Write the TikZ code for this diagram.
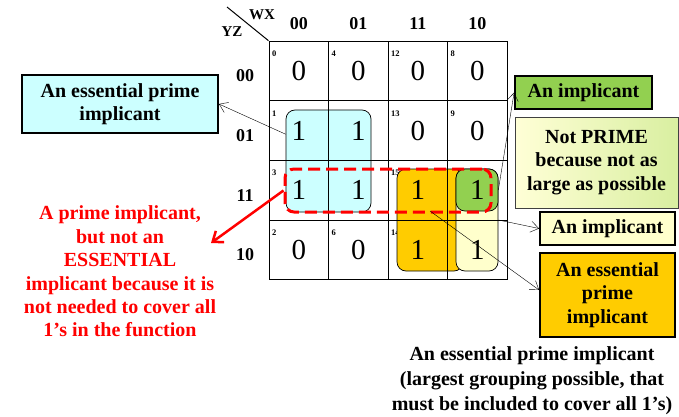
\documentclass[tikz,border=0pt]{standalone}
\usepackage{fontspec}
\setmainfont{Liberation Serif}
\usetikzlibrary{arrows.meta}
\definecolor{cyanfill}{HTML}{CCFFFF}
\definecolor{greenfill}{HTML}{92D050}
\definecolor{yellowfill}{HTML}{FFFFCC}
\definecolor{orangefill}{HTML}{FFCC00}
\definecolor{redline}{HTML}{FF0000}
\begin{document}
\begin{tikzpicture}[x=1pt,y=-1pt,
      kcell/.style={draw,line width=1pt,inner sep=0pt,minimum width=59.5pt,
        minimum height=59.6pt,font=\fontsize{29}{29}\selectfont},
      grp/.style={draw,line width=.7pt,rounded corners=9pt,inner sep=0pt},
      lbl/.style={draw,line width=1.8pt,align=center,inner sep=0pt,
        font=\fontsize{20}{23.5}\selectfont\bfseries},
      hdr/.style={font=\fontsize{18}{18}\selectfont\bfseries},
      idx/.style={anchor=west,inner sep=0pt,font=\fontsize{8.5}{8.5}\selectfont\bfseries},
      note/.style={->,>={Straight Barb[length=8pt,width=11pt]}}]
      \useasboundingbox (0,0) rectangle (679,417);

      \node[font=\fontsize{15}{15}\selectfont\bfseries] (wx) at (262,15) {WX};
      \node[font=\fontsize{15}{15}\selectfont\bfseries] (yz) at (232,32) {YZ};
      \coordinate (diag) at (227,7);

      \foreach \c/\cl/\base in {0/00/0,1/01/4,2/11/12,3/10/8}
      {\node[hdr] (col\c) at (298.75+59.5*\c,24) {\cl};
       \foreach \r/\add in {0/0,1/1,2/3,3/2}
       {\pgfmathtruncatemacro\n{\base+\add}
        \node[idx] (i\n) at (272+59.5*\c,54+59.6*\r) {\n};
       }
      }
      \foreach \r/\rl in {0/00,1/01,2/11,3/10}
      {\node[hdr] (row\r) at (245,76+59.6*\r) {\rl};}

      \node[grp,fill=cyanfill,minimum width=85pt,minimum height=102pt] (cyangrp) at (328.5,161) {};
      \node[grp,fill=orangefill,minimum width=66pt,minimum height=102pt] (orangegrp) at (430,220) {};
      \node[grp,fill=yellowfill,minimum width=42pt,minimum height=102pt] (yellowgrp) at (477,220) {};
      \node[grp,fill=greenfill,minimum width=42pt,minimum height=42pt] (greengrp) at (477,190) {};

      \foreach \c in {0,...,3}
       \foreach \r in {0,...,3}
       {\pgfmathtruncatemacro\v{(\c<2)*(\r>0)*(\r<3)+(\c>1)*(\r>1)}
        \node[kcell] (k\r\c) at (298.75+59.5*\c,71+59.6*\r) {\v};
       }
      \draw[line width=1pt] (diag) -- (k00.north west);

      \node[grp,draw=redline,line width=3pt,dash pattern=on 12pt off 6pt,
        minimum width=206pt,minimum height=43pt] (redgrp) at (388,190.5) {};

      \node[lbl,fill=cyanfill,minimum width=196pt,minimum height=58pt] (cyanlbl) at (120,104)
        {An essential prime\\implicant};
      \node[lbl,fill=greenfill,minimum width=137pt,minimum height=33pt] (greenlbl) at (583.5,92.5)
        {An implicant};
      \node[lbl,line width=.8pt,draw=black!75,left color=yellowfill!80!white,right color=greenfill!35!yellowfill,
        minimum width=163pt,minimum height=91pt] (primelbl) at (596.5,162.5)
        {Not PRIME\\because not as\\large as possible};
      \node[lbl,fill=yellowfill,minimum width=135pt,minimum height=33pt] (yellowlbl) at (607.5,228.5)
        {An implicant};
      \node[lbl,fill=orangefill,minimum width=135pt,minimum height=84pt] (orangelbl) at (607.5,295)
        {An essential\\prime\\implicant};

      \node[align=center,text=redline,font=\fontsize{20}{23.4}\selectfont\bfseries] (redtxt) at (120,271.5)
        {A prime implicant,\\but not an\\ESSENTIAL\\implicant because it is\\not needed to cover all\\1’s in the function};
      \node[align=center,font=\fontsize{20}{25}\selectfont\bfseries] (eptxt) at (532,381)
        {An essential prime implicant\\(largest grouping possible, that\\must be included to cover all 1’s)};

      \coordinate (redtip) at (211,243);
      \draw[note] (cyangrp.148.5) -- (cyanlbl.east);
      \draw[note] (greengrp.east) -- (greenlbl.west);
      \draw[note] (yellowgrp.east) -- (yellowlbl.west);
      \draw[note] ([yshift=9pt]orangegrp.center) -- ([yshift=5pt]orangelbl.west);
      \draw[->,>={Straight Barb[length=9pt,width=14pt]},redline,line width=2.5pt] (redgrp.west) -- (redtip);
    \end{tikzpicture}
\end{document}
